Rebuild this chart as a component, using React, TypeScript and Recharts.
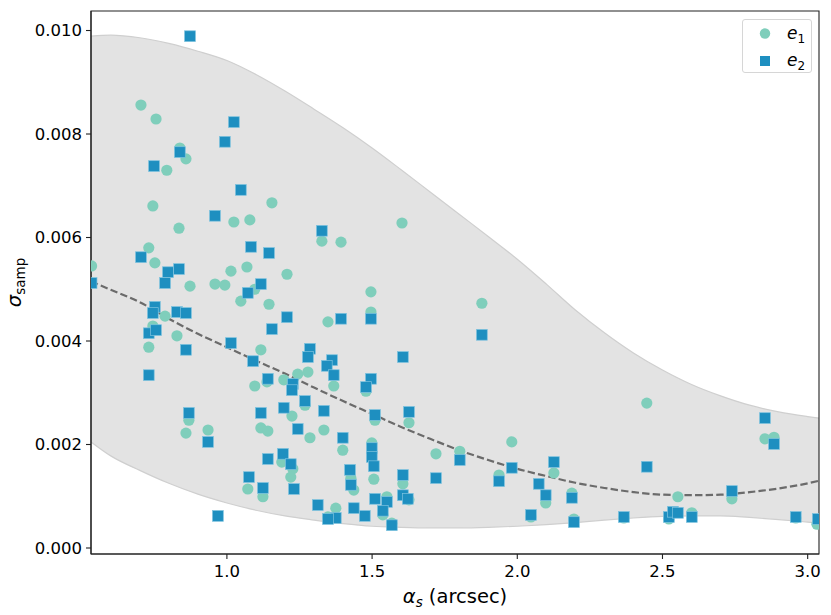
import React from "react";
import {
  ComposedChart,
  XAxis,
  YAxis,
  Area,
  Line,
  Scatter,
  ReferenceArea,
} from "recharts";

// ---------- data ----------
const X_DOMAIN: [number, number] = [0.532, 3.039];
const Y_DOMAIN: [number, number] = [-0.000116, 0.010377];
const X_TICKS = [1.0, 1.5, 2.0, 2.5, 3.0];
const Y_TICKS = [0, 0.002, 0.004, 0.006, 0.008, 0.01];

const bandX = [0.532, 0.6, 0.7, 0.8, 0.9, 1.0, 1.1, 1.2, 1.3, 1.4, 1.5, 1.6, 1.7, 1.8, 1.9, 2.0, 2.1, 2.2, 2.3, 2.4, 2.5, 2.6, 2.7, 2.8, 2.9, 3.0, 3.039];
const bandHigh = [0.00989, 0.00991, 0.00986, 0.00975, 0.0096, 0.00942, 0.00915, 0.00883, 0.00848, 0.00812, 0.00773, 0.00731, 0.00688, 0.00645, 0.00602, 0.00558, 0.0051, 0.0046, 0.00416, 0.00377, 0.00344, 0.00316, 0.00294, 0.00276, 0.00263, 0.00254, 0.00251];
const bandLow = [0.00205, 0.00178, 0.0015, 0.00125, 0.00104, 0.00087, 0.00073, 0.00062, 0.00054, 0.00047, 0.00042, 0.0004, 0.00039, 0.00039, 0.0004, 0.00042, 0.00045, 0.00049, 0.00054, 0.00058, 0.00061, 0.00062, 0.00062, 0.00059, 0.00055, 0.0005, 0.00048];
const fitY = [0.00515, 0.00499, 0.00475, 0.00443, 0.00414, 0.00388, 0.00362, 0.00337, 0.0031, 0.00284, 0.00259, 0.00234, 0.00211, 0.00189, 0.0017, 0.00153, 0.00139, 0.00126, 0.00116, 0.00108, 0.00103, 0.00102, 0.00103, 0.00108, 0.00115, 0.00125, 0.0013];

const e1X = [0.534, 0.704, 0.756, 0.793, 0.838, 0.859, 0.745, 0.835, 1.024, 1.079, 0.731, 0.752, 1.014, 1.069, 0.873, 0.959, 0.993, 1.155, 1.327, 1.393, 1.603, 1.207, 1.496, 1.878, 1.048, 1.096, 1.145, 0.787, 0.745, 0.828, 0.731, 0.869, 0.859, 0.935, 1.072, 1.096, 1.496, 1.348, 1.117, 1.138, 1.196, 1.244, 1.279, 1.368, 1.479, 1.269, 1.224, 1.117, 1.141, 1.286, 1.334, 1.51, 1.627, 1.399, 1.499, 1.189, 1.227, 1.22, 1.124, 1.427, 1.437, 1.506, 1.606, 1.551, 1.537, 1.375, 1.348, 1.568, 1.627, 1.72, 1.802, 1.981, 1.937, 2.126, 2.098, 2.047, 2.188, 2.195, 2.446, 2.367, 2.553, 2.522, 2.601, 2.739, 2.853, 2.884, 2.959, 3.032];
const e1Y = [0.00545, 0.00856, 0.00829, 0.0073, 0.00773, 0.00752, 0.00661, 0.00618, 0.0063, 0.00634, 0.0058, 0.00551, 0.00535, 0.00543, 0.00506, 0.0051, 0.00508, 0.00667, 0.00593, 0.00591, 0.00628, 0.00529, 0.00495, 0.00473, 0.00477, 0.005, 0.00471, 0.00448, 0.00429, 0.0041, 0.00388, 0.00247, 0.00222, 0.00228, 0.00114, 0.00313, 0.00456, 0.00437, 0.00383, 0.00321, 0.00325, 0.00336, 0.0034, 0.00313, 0.00303, 0.00276, 0.00255, 0.00232, 0.00226, 0.00213, 0.00228, 0.00247, 0.00242, 0.00189, 0.00203, 0.00166, 0.00153, 0.00137, 0.00099, 0.00135, 0.00112, 0.00133, 0.00124, 0.00099, 0.00064, 0.00077, 0.0006, 0.00048, 0.00093, 0.00182, 0.00187, 0.00205, 0.00141, 0.00145, 0.00087, 0.0006, 0.00106, 0.00056, 0.0028, 0.00058, 0.00099, 0.00056, 0.00068, 0.00095, 0.00211, 0.00214, 0.00058, 0.00046];

const e2X = [0.534, 0.873, 1.024, 0.993, 0.838, 0.749, 1.048, 0.959, 0.704, 0.835, 0.797, 0.787, 1.083, 1.145, 1.117, 1.327, 1.072, 0.752, 0.745, 0.828, 0.859, 0.731, 0.756, 0.859, 1.014, 0.731, 0.869, 0.935, 1.076, 0.969, 1.09, 1.207, 1.155, 1.393, 1.496, 1.606, 1.286, 1.279, 1.362, 1.344, 1.368, 1.141, 1.227, 1.224, 1.496, 1.479, 1.269, 1.196, 1.334, 1.117, 1.51, 1.627, 1.244, 1.399, 1.499, 1.499, 1.193, 1.141, 1.22, 1.506, 1.124, 1.231, 1.424, 1.427, 1.606, 1.606, 1.623, 1.51, 1.551, 1.537, 1.313, 1.437, 1.375, 1.348, 1.475, 1.568, 1.878, 1.802, 1.72, 1.981, 1.937, 2.126, 2.074, 2.098, 2.047, 2.188, 2.195, 2.853, 2.884, 2.446, 2.367, 2.522, 2.536, 2.553, 2.601, 2.739, 2.959, 3.035];
const e2Y = [0.00512, 0.00989, 0.00823, 0.00785, 0.00765, 0.00738, 0.00692, 0.00642, 0.00562, 0.00539, 0.00533, 0.00512, 0.00582, 0.0057, 0.0051, 0.00613, 0.00493, 0.00466, 0.00454, 0.00456, 0.00454, 0.00415, 0.00421, 0.00383, 0.00396, 0.00334, 0.00261, 0.00205, 0.00137, 0.00062, 0.00361, 0.00446, 0.00423, 0.00443, 0.00443, 0.00369, 0.00385, 0.00369, 0.00363, 0.00352, 0.00334, 0.00327, 0.00317, 0.00305, 0.00327, 0.00311, 0.00284, 0.00271, 0.00265, 0.00261, 0.00257, 0.00263, 0.0023, 0.00213, 0.00193, 0.00176, 0.00182, 0.00172, 0.00162, 0.00158, 0.00116, 0.00114, 0.00151, 0.00122, 0.00141, 0.00102, 0.00095, 0.00095, 0.00089, 0.00072, 0.00083, 0.00077, 0.00058, 0.00056, 0.00062, 0.00044, 0.00412, 0.0017, 0.00135, 0.00155, 0.00129, 0.00166, 0.00124, 0.00102, 0.00064, 0.00097, 0.0005, 0.00251, 0.00201, 0.00157, 0.0006, 0.0006, 0.0007, 0.00068, 0.0006, 0.0011, 0.0006, 0.00056];

// ---------- styles ----------
const C_E1 = "#7fcebb";
const C_E2 = "#1e8fc0";
const FONT = "'DejaVu Sans', sans-serif";

const bandData = bandX.map((x, i) => ({ x, band: [bandLow[i], bandHigh[i]], fit: fitY[i] }));
const e1Data = e1X.map((x, i) => ({ x, y: e1Y[i] }));
const e2Data = e2X.map((x, i) => ({ x, y: e2Y[i] }));

const CircleShape = (p: any) => <circle cx={p.cx} cy={p.cy} r={5.6} fill={C_E1} />;
const SquareShape = (p: any) => (
  <rect x={p.cx - 5.4} y={p.cy - 5.4} width={10.8} height={10.8} fill={C_E2} stroke="#7fc3df" strokeWidth={0.7} />
);

const XLabel = (props: any) => {
  const vb = props.viewBox || {};
  const cx = vb.x + vb.width / 2;
  return (
    <text x={cx} y={603} textAnchor="middle" fontFamily={FONT} fontSize={19.5} fill="#000">
      <tspan fontStyle="italic">α</tspan>
      <tspan fontStyle="italic" fontSize={13.5} dy={4}>s</tspan>
      <tspan dy={-4}> (arcsec)</tspan>
    </text>
  );
};

const YLabel = (props: any) => {
  const vb = props.viewBox || {};
  const cy = vb.y + vb.height / 2;
  return (
    <text
      x={0}
      y={0}
      transform={`translate(21, ${cy}) rotate(-90)`}
      textAnchor="middle"
      fontFamily={FONT}
      fontSize={19.5}
      fill="#000"
    >
      <tspan fontStyle="italic">σ</tspan>
      <tspan fontSize={13.5} dy={4}>samp</tspan>
    </text>
  );
};

const LegendBox = () => (
  <div
    style={{
      position: "absolute",
      left: 742,
      top: 19,
      width: 70,
      height: 54,
      border: "1px solid #d6d6d6",
      borderRadius: 3,
      background: "rgba(255,255,255,0.85)",
      fontFamily: FONT,
      boxSizing: "border-box",
    }}
  >
    <svg width={70} height={54} style={{ position: "absolute", left: 0, top: 0 }}>
      <circle cx={22} cy={13.5} r={5.2} fill={C_E1} />
      <rect x={17} y={36} width={10} height={10} fill={C_E2} />
      <text x={44} y={19} fontFamily={FONT} fontSize={17} fill="#000">
        <tspan fontStyle="italic">e</tspan>
        <tspan fontSize={12} dy={4}>1</tspan>
      </text>
      <text x={44} y={46} fontFamily={FONT} fontSize={17} fill="#000">
        <tspan fontStyle="italic">e</tspan>
        <tspan fontSize={12} dy={4}>2</tspan>
      </text>
    </svg>
  </div>
);

export default function App() {
  return (
    <div style={{ position: "absolute", left: 0, top: 0, width: 831, height: 615, background: "#fff" }}>
      <ComposedChart
        width={831}
        height={615}
        data={bandData}
        margin={{ top: 11, right: 12, bottom: 31, left: 31 }}
      >
        <XAxis
          dataKey="x"
          type="number"
          domain={X_DOMAIN}
          ticks={X_TICKS}
          allowDataOverflow
          tickFormatter={(v: number) => v.toFixed(1)}
          tick={{ fill: "#000", fontSize: 16.5, fontFamily: FONT }}
          tickSize={5}
          tickMargin={6}
          height={30}
          axisLine={{ stroke: "#222", strokeWidth: 1.1 }}
          tickLine={{ stroke: "#222", strokeWidth: 1.1 }}
          label={<XLabel />}
        />
        <YAxis
          type="number"
          domain={Y_DOMAIN}
          ticks={Y_TICKS}
          allowDataOverflow
          tickFormatter={(v: number) => v.toFixed(3)}
          tick={{ fill: "#000", fontSize: 16.5, fontFamily: FONT }}
          tickSize={5}
          tickMargin={4}
          width={60}
          axisLine={{ stroke: "#222", strokeWidth: 1.1 }}
          tickLine={{ stroke: "#222", strokeWidth: 1.1 }}
          label={<YLabel />}
        />
        <Area
          dataKey="band"
          type="monotone"
          fill="#e3e3e3"
          fillOpacity={1}
          stroke="#cfcfcf"
          strokeWidth={1.2}
          isAnimationActive={false}
          dot={false}
          activeDot={false}
        />
        <Line
          dataKey="fit"
          type="monotone"
          stroke="#6b6b6b"
          strokeWidth={2.2}
          strokeDasharray="7.4 3.2"
          dot={false}
          activeDot={false}
          isAnimationActive={false}
        />
        <Scatter data={e1Data} dataKey="y" shape={CircleShape} isAnimationActive={false} />
        <Scatter data={e2Data} dataKey="y" shape={SquareShape} isAnimationActive={false} />
        <ReferenceArea
          x1={X_DOMAIN[0]}
          x2={X_DOMAIN[1]}
          y1={Y_DOMAIN[0]}
          y2={Y_DOMAIN[1]}
          fill="none"
          stroke="#222"
          strokeWidth={1.1}
          ifOverflow="visible"
        />
      </ComposedChart>
      <LegendBox />
    </div>
  );
}
